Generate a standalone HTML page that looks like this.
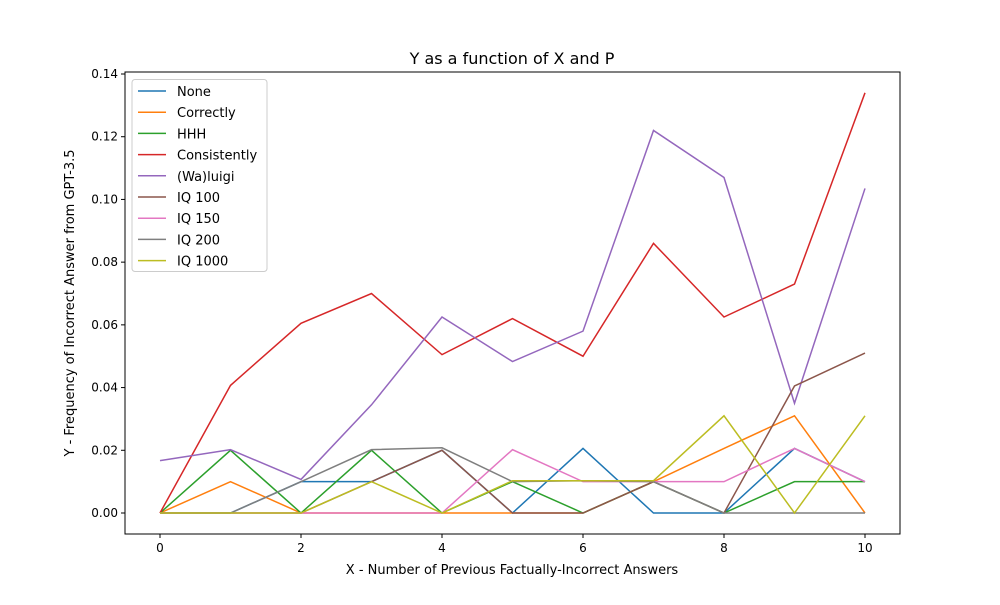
<!DOCTYPE html>
<html><head><meta charset="utf-8"><style>body{margin:0;background:#fff}svg{font-family:"DejaVu Sans","Liberation Sans",sans-serif}</style></head>
<body>
<svg id="chart" width="1000" height="600"></svg>
<script>
const xValues=[0,1,2,3,4,5,6,7,8,9,10];
const seriesNames=["None","Correctly","HHH","Consistently","(Wa)luigi","IQ 100","IQ 150","IQ 200","IQ 1000"];
const sNone=[0,0,0.01,0.01,0.02,0,0.0206,0,0,0.0206,0.01];
const sCorrectly=[0,0.01,0,0,0,0,0,0.01,0.0206,0.031,0];
const sHHH=[0,0.02,0,0.02,0,0.01,0,0.01,0,0.01,0.01];
const sConsistently=[0,0.0407,0.0605,0.07,0.0505,0.062,0.05,0.086,0.0625,0.073,0.134];
const sWaluigi=[0.0167,0.0202,0.0107,0.0345,0.0625,0.0483,0.058,0.122,0.107,0.035,0.1035];
const sIQ100=[0,0,0,0.01,0.02,0,0,0.01,0,0.0405,0.051];
const sIQ150=[0,0,0,0,0,0.0202,0.01,0.01,0.01,0.0206,0.01];
const sIQ200=[0,0,0.01,0.0202,0.0208,0.01,0.0103,0.01,0,0,0];
const sIQ1000=[0,0,0,0.01,0,0.0103,0.0103,0.0103,0.031,0,0.031];
const xTicks=[0,2,4,6,8,10];
const yTicks=[0,0.02,0.04,0.06,0.08,0.10,0.12,0.14];
const allSeries=[sNone,sCorrectly,sHHH,sConsistently,sWaluigi,sIQ100,sIQ150,sIQ200,sIQ1000];
const colors=["#1f77b4","#ff7f0e","#2ca02c","#d62728","#9467bd","#8c564b","#e377c2","#7f7f7f","#bcbd22"];
const L=125,R=900,T=72,B=534;
const xs=v=>160+(v-0)*(865-160)/10;
const ys=v=>513-v*(513-74)/0.14;
const svg=document.getElementById('chart');
const NS="http://www.w3.org/2000/svg";
function mk(t,a,p){const e=document.createElementNS(NS,t);for(const k in a)e.setAttribute(k,a[k]);(p||svg).appendChild(e);return e;}
const title=mk('text',{x:512,y:64,'text-anchor':'middle','font-size':16});title.textContent="Y as a function of X and P";


xTicks.forEach(t=>{const x=xs(t);mk('line',{x1:x,x2:x,y1:B,y2:B+4,stroke:'#000'});const tx=mk('text',{x:x,y:B+18,'text-anchor':'middle','font-size':12});tx.textContent=t;

});
yTicks.forEach(t=>{const y=ys(t);mk('line',{x1:L-4,x2:L,y1:y,y2:y,stroke:'#000'});const tx=mk('text',{x:L-7,y:y+4,'text-anchor':'end','font-size':12});tx.textContent=t.toFixed(2);

});
const xl=mk('text',{x:512,y:574,'text-anchor':'middle','font-size':13});xl.textContent="X - Number of Previous Factually-Incorrect Answers";


const yl=mk('text',{x:0,y:0,'text-anchor':'middle','font-size':13,transform:'translate(74,303) rotate(-90)'});yl.textContent="Y - Frequency of Incorrect Answer from GPT-3.5";


allSeries.forEach((s,i)=>{const p=mk('polyline',{points:s.map((v,j)=>xs(xValues[j])+','+ys(v)).join(' '),fill:'none',stroke:colors[i],'stroke-width':1.5});

});
mk('rect',{x:L,y:T,width:R-L,height:B-T,fill:'none',stroke:'#000','stroke-width':1});
const lg=mk('g',{});


mk('rect',{x:132,y:79.5,width:135,height:192,fill:'#fff','fill-opacity':0.8,stroke:'#ccc',rx:3},lg);
seriesNames.forEach((n,i)=>{const y=91+i*21.2;mk('line',{x1:138,x2:166,y1:y,y2:y,stroke:colors[i],'stroke-width':1.5},lg);const t=mk('text',{x:177,y:y+5,'font-size':13},lg);t.textContent=n;

});
</script>
</body></html>
